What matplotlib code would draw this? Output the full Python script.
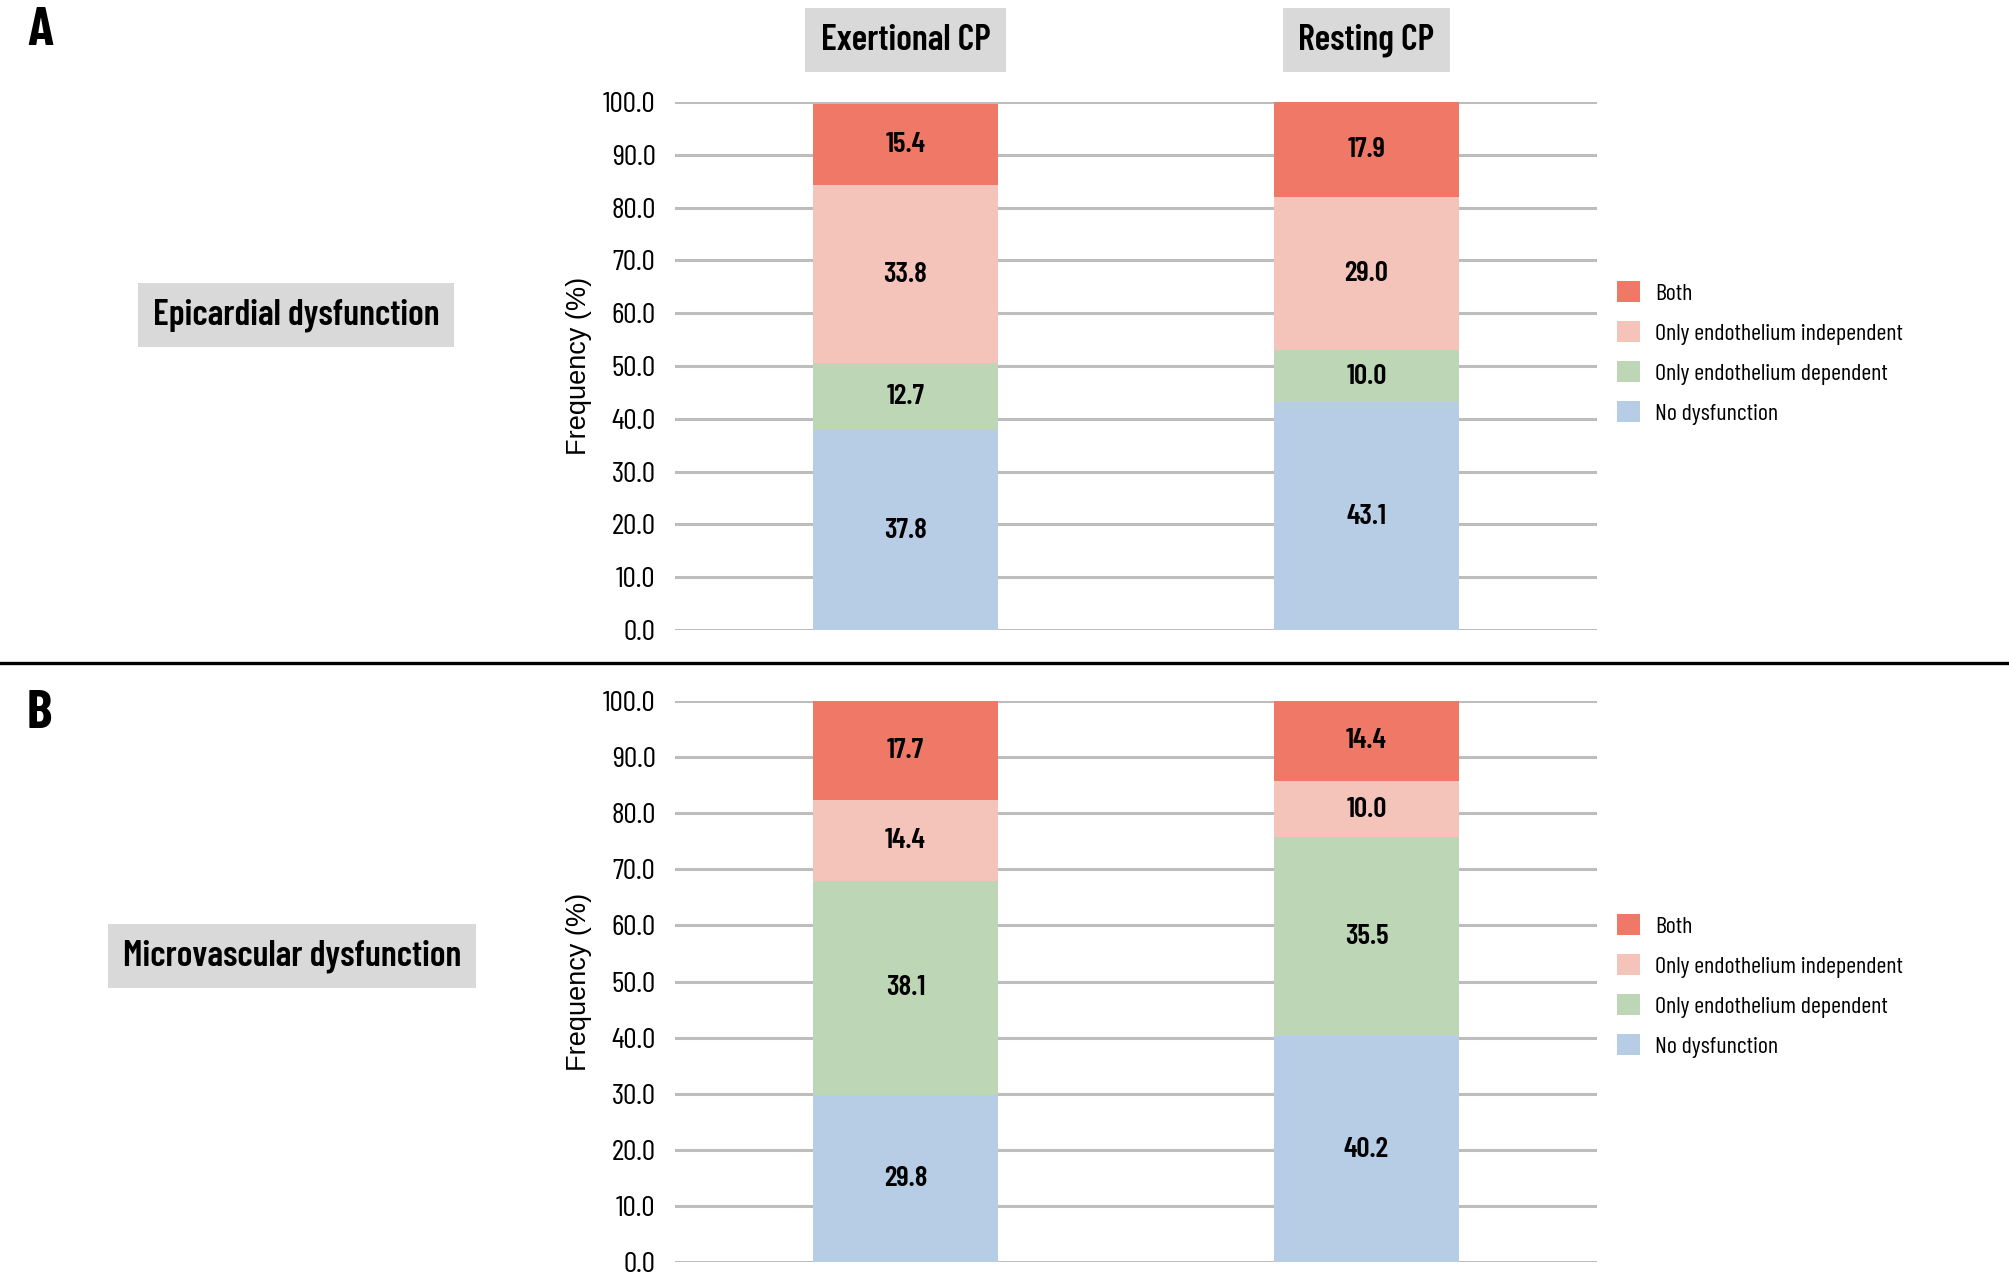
import matplotlib
matplotlib.use("Agg")
import matplotlib.pyplot as plt
from matplotlib import font_manager
from matplotlib.lines import Line2D
from matplotlib.patches import Patch
import matplotlib.transforms as mtransforms

available = {f.name for f in font_manager.fontManager.ttflist}


def pick(options):
    for name in options:
        if name in available:
            return name
    return "DejaVu Sans"


COND = pick(["Barlow Condensed", "Roboto Condensed", "Sofia Sans Condensed",
             "Saira SemiCondensed", "Liberation Sans Narrow"])
PLAIN = pick(["Liberation Sans", "Arimo", "DejaVu Sans"])

groups = ["Exertional CP", "Resting CP"]
categories = ["No dysfunction", "Only endothelium dependent",
              "Only endothelium independent", "Both"]
colors = ["#B6CDE5", "#BCD6B6", "#F4C4BA", "#F07867"]

panel_titles = ["Epicardial dysfunction", "Microvascular dysfunction"]
panel_letters = ["A", "B"]

# values per category, [Exertional, Resting]
epicardial = {
    "No dysfunction": [37.8, 43.1],
    "Only endothelium dependent": [12.7, 10.0],
    "Only endothelium independent": [33.8, 29.0],
    "Both": [15.4, 17.9],
}
microvascular = {
    "No dysfunction": [29.8, 40.2],
    "Only endothelium dependent": [38.1, 35.5],
    "Only endothelium independent": [14.4, 10.0],
    "Both": [17.7, 14.4],
}
yticks = [0, 10, 20, 30, 40, 50, 60, 70, 80, 90, 100]

W, H = 2009, 1285
fig = plt.figure(figsize=(W / 100, H / 100), dpi=100)


def fx(px):
    return px / W


def fy(px):
    return 1 - px / H


def draw_panel(rect, data, row_label, letter, letter_y, label_xy, legend_y, headers):
    ax = fig.add_axes(rect)
    x = range(len(groups))
    bottom = [0.0] * len(groups)
    for cat, col in zip(categories, colors):
        vals = data[cat]
        ax.bar(x, vals, width=0.4, bottom=bottom, color=col, zorder=3, label=cat)
        for i, v in enumerate(vals):
            ax.text(i, bottom[i] + v / 2, f"{v:.1f}", ha="center", va="center",
                    family=COND, fontweight=600, fontsize=21, zorder=4)
        bottom = [b + v for b, v in zip(bottom, vals)]
    ax.set_xlim(-0.5, 1.5)
    ax.set_ylim(0, 100)
    ax.set_yticks(yticks)
    ax.set_yticklabels([f"{t:.1f}" for t in yticks], family=COND, fontsize=21.5)
    ax.set_xticks([])
    ax.tick_params(axis="y", length=0, pad=14)
    ax.grid(axis="y", color="#BDBDBD", linewidth=2.2, zorder=0)
    ax.set_axisbelow(True)
    for s in ax.spines.values():
        s.set_visible(False)
    ax.set_ylabel("Frequency (%)", fontsize=19.5, family=PLAIN, labelpad=8)

    fig.text(fx(27), fy(letter_y), letter, family=COND, fontweight="bold",
             fontsize=39, ha="left", va="center")
    fig.text(fx(label_xy[0]), fy(label_xy[1]), row_label, family=COND,
             fontweight=600, fontsize=26, ha="center", va="center",
             bbox=dict(boxstyle="square,pad=0.42", facecolor="#D9D9D9", edgecolor="none"))

    if headers:
        trans = mtransforms.blended_transform_factory(ax.transData, fig.transFigure)
        for i, g in enumerate(groups):
            ax.text(i, fy(40), g, transform=trans, family=COND, fontweight=600,
                    fontsize=26, ha="center", va="center",
                    bbox=dict(boxstyle="square,pad=0.42", facecolor="#D9D9D9", edgecolor="none"))

    handles = [Patch(facecolor=c, edgecolor="none") for c in colors][::-1]
    fig.legend(handles, categories[::-1], loc="center left",
               bbox_to_anchor=(fx(1617), fy(legend_y)), frameon=False,
               prop={"family": COND, "size": 17.3}, handlelength=0.95,
               handleheight=0.95, handletextpad=0.65, labelspacing=0.68,
               borderpad=0, borderaxespad=0)
    return ax


draw_panel([fx(675), fy(630), fx(922), (630 - 102) / H], epicardial,
           panel_titles[0], panel_letters[0], 31, (296, 315), 353, True)
draw_panel([fx(675), fy(1262), fx(922), (1262 - 701) / H], microvascular,
           panel_titles[1], panel_letters[1], 714, (292, 956), 986, False)

fig.add_artist(Line2D([0, 1], [fy(663), fy(663)], color="black", linewidth=2.4,
                      transform=fig.transFigure))

fig.savefig("out.png", dpi=100)
